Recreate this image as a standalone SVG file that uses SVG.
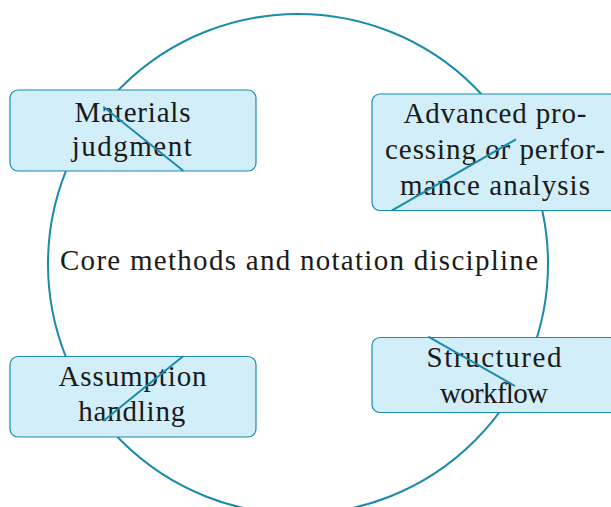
<svg xmlns="http://www.w3.org/2000/svg" width="611" height="507" viewBox="0 0 611 507">
<style>
.box{fill:#d1eef9;stroke:#1a8aad;stroke-width:1.2}
.t{font-family:"Liberation Serif","Times New Roman",serif;font-size:29px;fill:#1a1a1a;text-anchor:middle}
.ln{stroke:#1a8aad;stroke-width:2;fill:none}
</style>
<rect width="611" height="507" fill="#ffffff"/>
<g id="ring"><circle cx="298" cy="264" r="250" class="ln"/></g>
<g id="core"><text class="t" x="299" y="270" textLength="478" lengthAdjust="spacing">Core methods and notation discipline</text></g>
<g id="materials">
<rect class="box" x="10" y="90" width="246" height="81" rx="8"/>
<text class="t" x="132.5" y="122" textLength="116" lengthAdjust="spacing">Materials</text>
<text class="t" x="131.7" y="156" textLength="120" lengthAdjust="spacing">judgment</text>
</g>
<g id="advanced">
<rect class="box" x="372" y="94" width="246" height="116.5" rx="8"/>
<text class="t" x="495" y="122.5" textLength="183" lengthAdjust="spacing">Advanced pro-</text>
<text class="t" x="495" y="158.5" textLength="220" lengthAdjust="spacing">cessing or perfor-</text>
<text class="t" x="495" y="194.5" textLength="190" lengthAdjust="spacing">mance analysis</text>
</g>
<g id="assumption">
<rect class="box" x="10" y="356.5" width="246" height="80.5" rx="8"/>
<text class="t" x="132.5" y="386" textLength="148" lengthAdjust="spacing">Assumption</text>
<text class="t" x="131.7" y="421" textLength="107" lengthAdjust="spacing">handling</text>
</g>
<g id="structured">
<rect class="box" x="372" y="337.5" width="246" height="75" rx="8"/>
<text class="t" x="494" y="367" textLength="135" lengthAdjust="spacing">Structured</text>
<text class="t" x="494" y="403" textLength="108" lengthAdjust="spacing">workflow</text>
</g>
<g id="connectors">
<line class="ln" x1="103.3" y1="106.7" x2="183.3" y2="170.7"/>
<line class="ln" x1="391.7" y1="210.7" x2="516" y2="139.3"/>
<line class="ln" x1="103.3" y1="421" x2="183.3" y2="356"/>
<line class="ln" x1="428.3" y1="336.7" x2="515" y2="386"/>
</g>
</svg>
